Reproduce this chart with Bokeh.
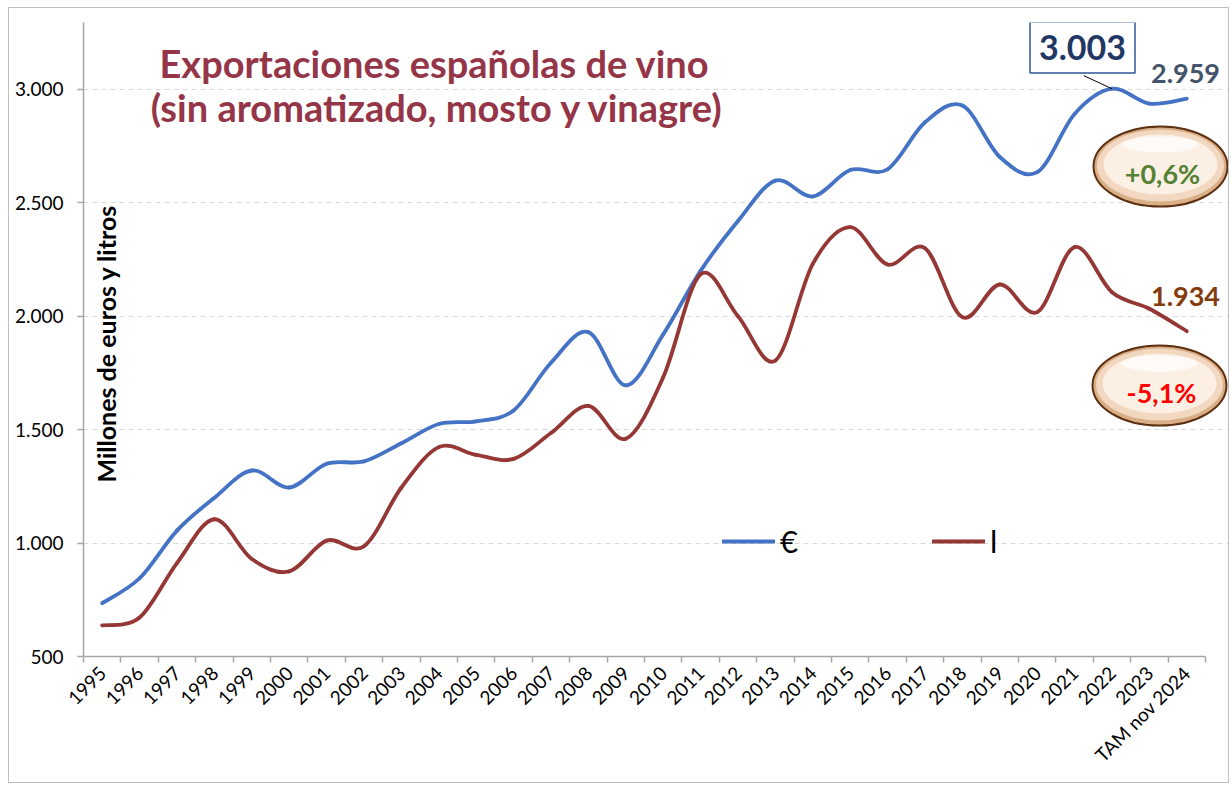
import math
from bokeh.plotting import figure
from bokeh.models import (ColumnDataSource, Range1d, FixedTicker, Label, Legend, LegendItem)
from bokeh.embed import file_html
from bokeh.resources import INLINE

# ---------------- data ----------------
years = ["1995", "1996", "1997", "1998", "1999", "2000", "2001", "2002", "2003", "2004",
         "2005", "2006", "2007", "2008", "2009", "2010", "2011", "2012", "2013", "2014",
         "2015", "2016", "2017", "2018", "2019", "2020", "2021", "2022", "2023", "TAM nov 2024"]
euros = [735, 845, 1055, 1200, 1320, 1245, 1350, 1360, 1440, 1525,
         1537, 1585, 1795, 1930, 1695, 1920, 2200, 2420, 2598, 2528,
         2645, 2648, 2855, 2929, 2702, 2635, 2892, 3003, 2937, 2959]
litros = [637, 672, 912, 1105, 930, 875, 1011, 986, 1245, 1423,
          1389, 1371, 1485, 1605, 1460, 1731, 2185, 2000, 1805, 2231,
          2393, 2228, 2300, 1996, 2140, 2018, 2305, 2106, 2033, 1934]
y_ticks = [500, 1000, 1500, 2000, 2500, 3000]
y_tick_labels = ["500", "1.000", "1.500", "2.000", "2.500", "3.000"]

FONT = "Lato"

# ---------------- layout constants ----------------
W, H = 1221, 776
ML, MT, MB = 74, 14, 128
XPX = 37.4            # px per category
Y0, Y1 = 500, 3295
frame_w = W - ML
frame_h = H - MT - MB
x_end = -0.5 + frame_w / XPX

# helpers to place annotations from page pixel positions
ORX, ORY = 9, 8
def px_x(px):
    return -0.5 + (px - (ORX + ML)) / XPX
def px_y(py):
    top = ORY + MT
    return Y1 - (py - top) * (Y1 - Y0) / frame_h

p = figure(width=W, height=H, output_backend="svg", toolbar_location=None,
           x_range=Range1d(-0.5, x_end), y_range=Range1d(Y0, Y1),
           min_border_left=ML, min_border_right=0, min_border_top=MT, min_border_bottom=MB,
           styles={"border": "1px solid #BFBFBF", "margin-left": "8px", "margin-top": "7px"})
p.outline_line_color = None
p.background_fill_color = "white"
p.border_fill_color = "white"

# ---------------- axes ----------------
xi = list(range(len(years)))
p.xaxis.ticker = FixedTicker(ticks=xi, minor_ticks=[i - 0.5 for i in range(len(years) + 1)])
p.xaxis.major_label_overrides = {i: years[i] for i in xi}
p.xaxis.major_label_orientation = math.pi / 4
p.xaxis.major_tick_line_color = None
p.xaxis.minor_tick_line_color = "#A6A6A6"
p.xaxis.minor_tick_line_width = 1.5
p.xaxis.minor_tick_in = 0
p.xaxis.minor_tick_out = 6
p.xaxis.axis_line_color = "#A6A6A6"
p.xaxis.axis_line_width = 1.5
p.xaxis.bounds = (-0.5, len(years) - 0.5)
p.xaxis.major_label_text_font = FONT
p.xaxis.major_label_text_font_size = "19px"
p.xaxis.major_label_text_color = "black"
p.xaxis.major_label_standoff = 7

p.yaxis.ticker = FixedTicker(ticks=y_ticks, minor_ticks=[])
p.yaxis.major_label_overrides = {t: l for t, l in zip(y_ticks, y_tick_labels)}
p.yaxis.major_tick_line_color = "#A6A6A6"
p.yaxis.major_tick_line_width = 1.5
p.yaxis.major_tick_in = 0
p.yaxis.major_tick_out = 6
p.yaxis.axis_line_color = "#A6A6A6"
p.yaxis.axis_line_width = 1.5
p.yaxis.major_label_text_font = FONT
p.yaxis.major_label_text_font_size = "19px"
p.yaxis.major_label_text_color = "black"
p.yaxis.major_label_standoff = 14

p.xgrid.visible = False
p.ygrid.ticker = FixedTicker(ticks=y_ticks[1:])
p.ygrid.grid_line_color = "#D9D9D9"
p.ygrid.grid_line_dash = "5 4"
p.ygrid.grid_line_width = 1.2
p.ygrid.bounds = (-0.5, len(years) - 0.5)

# ---------------- smoothed lines (Bezier through data points) ----------------
def bezier_source(vals):
    n = len(vals)
    d = dict(x0=[], y0=[], x1=[], y1=[], cx0=[], cy0=[], cx1=[], cy1=[])
    for i in range(n - 1):
        a, b = max(i - 1, 0), min(i + 2, n - 1)
        d["x0"].append(i); d["y0"].append(vals[i])
        d["x1"].append(i + 1); d["y1"].append(vals[i + 1])
        d["cx0"].append(i + (i + 1 - a) / 6); d["cy0"].append(vals[i] + (vals[i + 1] - vals[a]) / 6)
        d["cx1"].append(i + 1 - (b - i) / 6); d["cy1"].append(vals[i + 1] - (vals[b] - vals[i]) / 6)
    return ColumnDataSource(d)

r_eur = p.bezier(x0="x0", y0="y0", x1="x1", y1="y1", cx0="cx0", cy0="cy0", cx1="cx1", cy1="cy1",
                 source=bezier_source(euros), line_color="#4472C4", line_width=3.8, line_cap="round")
r_lit = p.bezier(x0="x0", y0="y0", x1="x1", y1="y1", cx0="cx0", cy0="cy0", cx1="cx1", cy1="cy1",
                 source=bezier_source(litros), line_color="#953735", line_width=3.8, line_cap="round")

# ---------------- legend ----------------
legend = Legend(items=[LegendItem(label="€", renderers=[r_eur]),
                       LegendItem(label="l", renderers=[r_lit])],
                orientation="horizontal", location=(639, 96),
                glyph_width=53, glyph_height=30, label_height=30, label_width=20,
                label_standoff=5, spacing=132, padding=0, margin=0,
                border_line_color=None, background_fill_alpha=0,
                label_text_font=FONT, label_text_font_size="31px", label_text_color="black")
p.add_layout(legend, "center")

# ---------------- title & axis title ----------------
for txt, cx, cy in [("Exportaciones españolas de vino", 434, 62),
                    ("(sin aromatizado, mosto y vinagre)", 437, 106)]:
    p.add_layout(Label(x=px_x(cx), y=px_y(cy), text=txt, text_align="center", text_baseline="middle",
                       text_font=FONT, text_font_style="bold", text_font_size="38px",
                       text_color="#953548"))

p.add_layout(Label(x=px_x(105), y=px_y(343), text="Millones de euros y litros", angle=math.pi / 2,
                   text_align="center", text_baseline="middle", text_font=FONT,
                   text_font_style="bold", text_font_size="25px", text_color="black"))

# ---------------- value annotations ----------------
i22 = years.index("2022")
last = len(years) - 1
p.segment(x0=[i22 - 28 / XPX], y0=[euros[i22] + 13 * (Y1 - Y0) / frame_h],
          x1=[i22], y1=[euros[i22]], line_color="black", line_width=1)
p.add_layout(Label(x=px_x(1082), y=px_y(47), text=f"{euros[i22]:,}".replace(",", "."),
                   text_align="center", text_baseline="middle", text_font=FONT,
                   text_font_style="bold", text_font_size="34px", text_color="#1F3864",
                   border_line_color="#2F5597", border_line_width=1.5,
                   background_fill_color="white", padding=(9, 13)))
p.add_layout(Label(x=px_x(1185), y=px_y(73), text=f"{euros[last]:,}".replace(",", "."),
                   text_align="center", text_baseline="middle", text_font=FONT,
                   text_font_style="bold", text_font_size="27px", text_color="#44546A"))
p.add_layout(Label(x=px_x(1185), y=px_y(296), text=f"{litros[last]:,}".replace(",", "."),
                   text_align="center", text_baseline="middle", text_font=FONT,
                   text_font_style="bold", text_font_size="27px", text_color="#843C0C"))

# ---------------- percentage badges ----------------
badges = [(1160, 166, "+0,6%", "#548235"), (1159, 385, "-5,1%", "#FF0000")]
bx = [px_x(b[0]) for b in badges]
by = [px_y(b[1]) for b in badges]
p.ellipse(x=bx, y=by, width=134, height=80, width_units="screen", height_units="screen",
          fill_color="#D9AF88", line_color="#5E3012", line_width=2)
p.ellipse(x=bx, y=[px_y(b[1] - 1) for b in badges], width=127, height=72,
          width_units="screen", height_units="screen", fill_color="#F2D8C0", line_color=None)
p.ellipse(x=bx, y=[px_y(b[1] - 2) for b in badges], width=114, height=60,
          width_units="screen", height_units="screen", fill_color="#FCEFE3", line_color=None)
p.ellipse(x=bx, y=[px_y(b[1] - 22) for b in badges], width=76, height=16,
          width_units="screen", height_units="screen", fill_color="white", fill_alpha=0.7,
          line_color=None)
for (cx, cy, txt, col) in badges:
    p.add_layout(Label(x=px_x(cx + 2), y=px_y(cy + 7), text=txt, text_align="center",
                       text_baseline="middle", text_font=FONT, text_font_style="bold",
                       text_font_size="27px", text_color=col))

open("out.html", "w").write(file_html(p, INLINE))
